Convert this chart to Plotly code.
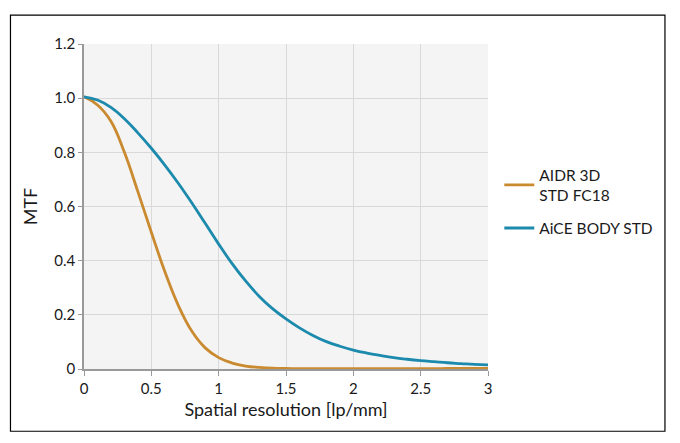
import plotly.graph_objects as go

x_vals = [round(i * 0.1, 1) for i in range(31)]
aidr = [1.005, 0.975, 0.915, 0.80, 0.655, 0.505, 0.36, 0.235, 0.14, 0.078, 0.042,
        0.022, 0.011, 0.006, 0.003, 0.002, 0.0015, 0.001, 0.001, 0.001, 0.001,
        0.001, 0.001, 0.001, 0.001, 0.0015, 0.0015, 0.002, 0.002, 0.002, 0.002]
aice = [1.005, 0.993, 0.966, 0.924, 0.872, 0.815, 0.753, 0.686, 0.614, 0.538, 0.461,
        0.389, 0.325, 0.269, 0.223, 0.185, 0.152, 0.124, 0.101, 0.084, 0.07,
        0.059, 0.05, 0.042, 0.036, 0.031, 0.027, 0.023, 0.02, 0.017, 0.015]
series_names = ["AIDR 3D<br>STD FC18", "AiCE BODY STD"]
y_ticks = [0, 0.2, 0.4, 0.6, 0.8, 1.0, 1.2]
y_tick_text = ["0", "0.2", "0.4", "0.6", "0.8", "1.0", "1.2"]
x_ticks = [0, 0.5, 1, 1.5, 2, 2.5, 3]
x_tick_text = ["0", "0.5", "1", "1.5", "2", "2.5", "3"]

FONT = "Lato"
fig = go.Figure()
fig.add_trace(go.Scatter(x=x_vals, y=aidr, mode="lines", name=series_names[0],
                         legendgroup="a",
                         line=dict(color="#c98a30", width=2.8, shape="spline", smoothing=1.2)))
fig.add_trace(go.Scatter(x=x_vals, y=aice, mode="lines", name=series_names[1],
                         legendgroup="b",
                         line=dict(color="#1c8aad", width=2.8, shape="spline", smoothing=1.2)))

fig.update_layout(
    width=680, height=443,
    margin=dict(l=84, r=192, t=44, b=74),
    paper_bgcolor="white", plot_bgcolor="#f4f4f4",
    font=dict(family=FONT, size=15, color="#1a1a1a"),
    showlegend=True,
    legend=dict(x=1.028, y=0.515, xanchor="left", yanchor="middle",
                bgcolor="rgba(0,0,0,0)", font=dict(size=15.5, family=FONT, color="#1a1a1a"),
                tracegroupgap=10, itemwidth=30),
    xaxis=dict(range=[0, 3], tickvals=x_ticks, ticktext=x_tick_text,
               showgrid=True, gridcolor="#d9d9d9", gridwidth=1,
               showline=True, linecolor="#999", linewidth=1.5,
               ticks="outside", ticklen=5, tickcolor="#999",
               zeroline=False, title=dict(text="Spatial resolution [lp/mm]", standoff=8),
               tickfont=dict(size=15)),
    yaxis=dict(range=[0, 1.2], tickvals=y_ticks, ticktext=y_tick_text,
               showgrid=True, gridcolor="#d9d9d9", gridwidth=1,
               showline=True, linecolor="#999", linewidth=1.5,
               ticks="outside", ticklen=4, tickcolor="#999",
               zeroline=False, title=dict(text="MTF", standoff=12),
               tickfont=dict(size=15)),
    shapes=[dict(type="rect", xref="paper", yref="paper",
                 x0=-0.182, x1=1.438, y0=-0.1916, y1=1.0886,
                 line=dict(color="black", width=1.2), fillcolor="rgba(0,0,0,0)", layer="below")],
)
fig.write_html("out.html")
